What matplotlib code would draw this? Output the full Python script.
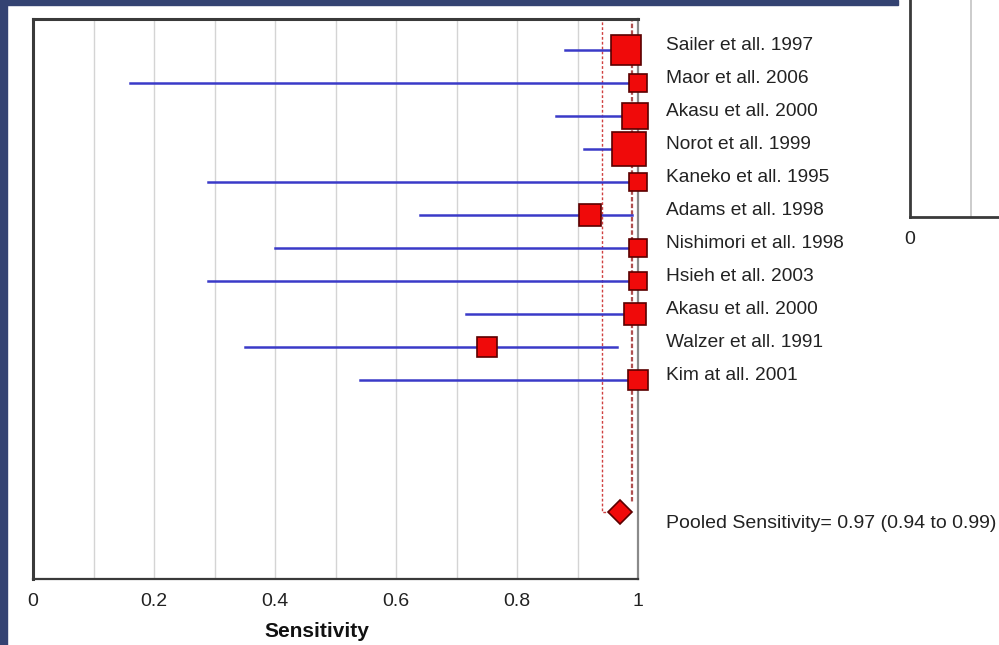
import matplotlib.pyplot as plt
from matplotlib.patches import Rectangle

plt.rcParams['font.family'] = ['Liberation Sans', 'DejaVu Sans']

# study data
studies = ['Sailer et all. 1997', 'Maor et all. 2006', 'Akasu et all. 2000',
           'Norot et all. 1999', 'Kaneko et all. 1995', 'Adams et all. 1998',
           'Nishimori et all. 1998', 'Hsieh et all. 2003', 'Akasu et all. 2000',
           'Walzer et all. 1991', 'Kim at all. 2001']
sens = [0.98, 1.0, 0.995, 0.985, 1.0, 0.92, 1.0, 1.0, 0.995, 0.75, 1.0]
ci_low = [0.88, 0.16, 0.865, 0.91, 0.29, 0.64, 0.40, 0.29, 0.715, 0.35, 0.54]
ci_high = [1.0, 1.0, 1.0, 0.995, 1.0, 0.99, 1.0, 1.0, 1.0, 0.965, 1.0]
weights = [30, 18, 26, 34, 18, 22, 18, 18, 22, 20, 20]

pooled = 0.97
pooled_low = 0.94
pooled_high = 0.99
pooled_text = 'Pooled Sensitivity= 0.97 (0.94 to 0.99)'

navy = '#344372'

fig = plt.figure(figsize=(9.99, 6.45), dpi=100)
fig.patch.set_facecolor('white')

# navy frame remnants (slide background)
fig.patches.append(Rectangle((0, 0), 7 / 999, 1, transform=fig.transFigure,
                             color=navy, zorder=0))
fig.patches.append(Rectangle((0, 1 - 5 / 645), 898 / 999, 5 / 645,
                             transform=fig.transFigure, color=navy, zorder=0))

ax = fig.add_axes([33 / 999, 1 - 579 / 645, 605 / 999, 560 / 645])
n = len(studies)
pool_y = n + 3

for i in range(n):
    ax.plot([ci_low[i], ci_high[i]], [i, i], color='#3a3ac8', lw=1.8, zorder=3)
    ax.plot(sens[i], i, marker='s', ms=weights[i] * 0.72, color='#f00a0a',
            mec='#5a0000', mew=1.2, zorder=4, clip_on=False)
    ax.text(1.046, i - 0.15, studies[i], fontsize=13.8, color='#222222',
            va='center', ha='left', clip_on=False)

# pooled lines
ax.plot([pooled_low, pooled_low, pooled], [-1, pool_y, pool_y],
        color='#d04040', lw=1, ls=(0, (2, 1.5)), zorder=2)
ax.plot([pooled_high, pooled_high], [-1, pool_y - 0.3],
        color='#b05050', lw=1.6, ls=(0, (2, 1)), zorder=2)
ax.plot(pooled, pool_y, marker='D', ms=12.5, color='#f00a0a', mec='#5a0000',
        mew=1.2, zorder=4)
ax.text(1.046, pool_y + 0.36, pooled_text, fontsize=14, color='#222222',
        va='center', ha='left', clip_on=False)

ax.set_xlim(0, 1)
ax.set_ylim(16.03, -0.94)
ax.set_xticks([0, 0.2, 0.4, 0.6, 0.8, 1])
ax.set_xticklabels(['0', '0.2', '0.4', '0.6', '0.8', '1'])
ax.set_xticks([i / 10 for i in range(11)], minor=True)
ax.set_yticks([])
ax.grid(True, axis='x', which='both', color='#d4d4d4', lw=1)
ax.tick_params(axis='x', which='both', length=0, pad=10, labelsize=14,
               labelcolor='#222222')
for s in ['left', 'top']:
    ax.spines[s].set_linewidth(2.2)
    ax.spines[s].set_color('#3a3a3a')
ax.spines['bottom'].set_linewidth(1.6)
ax.spines['bottom'].set_color('#3a3a3a')
ax.spines['right'].set_linewidth(1.6)
ax.spines['right'].set_color('#8a8a8a')
ax.text(0.47, -0.0946, 'Sensitivity', transform=ax.transAxes, fontsize=15,
        fontweight='bold', color='#111111', ha='center', va='center')

# second (cut off) panel on the right
ax2 = fig.add_axes([910 / 999, 1 - 217 / 645, 605 / 999, 560 / 645])
ax2.set_xlim(0, 1)
ax2.set_xticks([0])
ax2.set_xticklabels(['0'])
ax2.set_xticks([i / 10 for i in range(11)], minor=True)
ax2.set_yticks([])
ax2.grid(True, axis='x', which='both', color='#c4c4c4', lw=1.2)
ax2.tick_params(axis='x', which='both', length=0, pad=10, labelsize=14,
                labelcolor='#222222')
for s in ['left', 'bottom']:
    ax2.spines[s].set_linewidth(2)
    ax2.spines[s].set_color('#3a3a3a')

fig.savefig('out.png', dpi=100)
